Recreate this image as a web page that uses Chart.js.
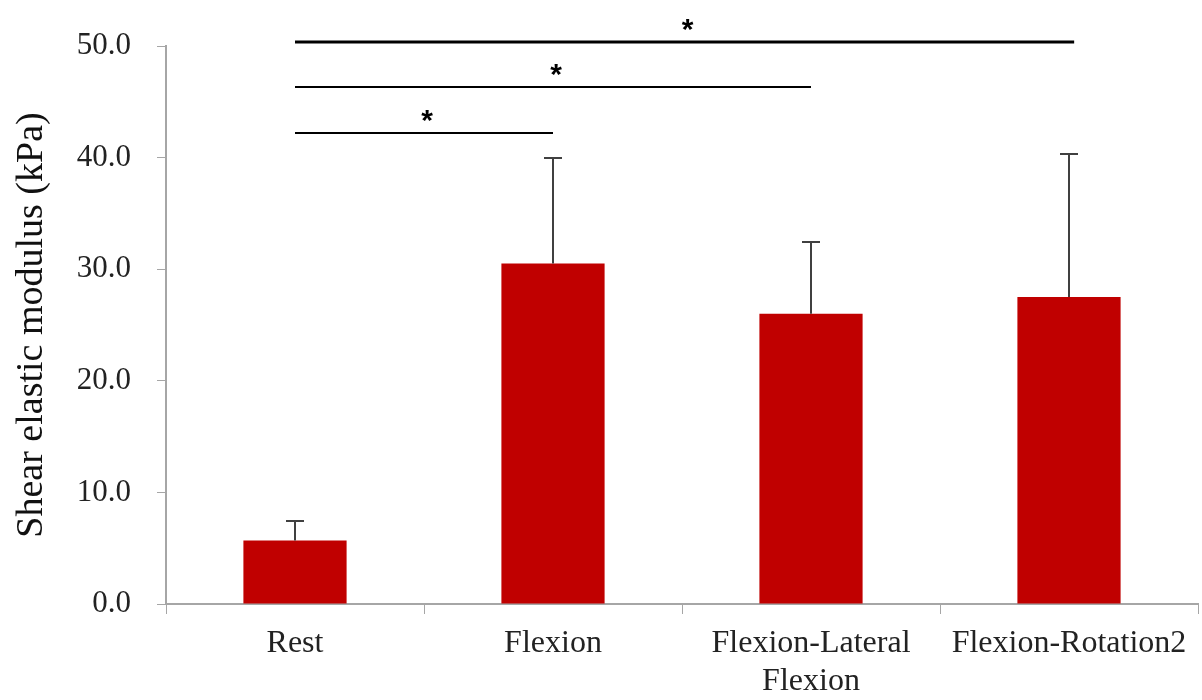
<!DOCTYPE html>
<html>
<head>
<meta charset="utf-8">
<script src="https://cdn.jsdelivr.net/npm/chart.js@4/dist/chart.umd.min.js"></script>
<style>
html,body{margin:0;padding:0;background:#fff;}
#wrap{width:1202px;height:700px;}
</style>
</head>
<body>
<div id="wrap"><canvas id="c" width="1202" height="700"></canvas></div>
<script>
const categories = ["Rest", "Flexion", ["Flexion-Lateral", "Flexion"], "Flexion-Rotation2"];
const means = [5.7, 30.5, 26.0, 27.5];
const sdUpper = [1.7, 9.5, 6.4, 12.8];
const sigFrom = [0, 0, 0];
const sigTo = [1, 2, 3.02];
const sigLevel = [42.2, 46.3, 50.4];
const sigMark = ["*", "*", "*"];
const yTicks = [0, 10, 20, 30, 40, 50];

const serif = '"Liberation Serif", "Times New Roman", serif';

const overlay = {
  id: 'overlay',
  afterDatasetsDraw(chart) {
    const ctx = chart.ctx;
    const x = chart.scales.x, y = chart.scales.y;
    ctx.save();
    // error bars
    ctx.strokeStyle = '#404040';
    ctx.lineWidth = 2;
    means.forEach((m, i) => {
      const px = Math.round(x.getPixelForValue(i));
      const y0 = y.getPixelForValue(m);
      const y1 = Math.round(y.getPixelForValue(m + sdUpper[i]));
      ctx.beginPath();
      ctx.moveTo(px, y0); ctx.lineTo(px, y1);
      ctx.moveTo(px - 9, y1); ctx.lineTo(px + 9, y1);
      ctx.stroke();
    });
    // significance lines
    ctx.strokeStyle = '#000';
    ctx.fillStyle = '#000';
    ctx.font = 'bold 30px "Liberation Sans", Arial, sans-serif';
    ctx.textAlign = 'center';
    ctx.textBaseline = 'middle';
    sigLevel.forEach((lv, i) => {
      const xa = x.getPixelForValue(sigFrom[i]);
      const xb = x.getPixelForValue(sigTo[i]);
      const py = Math.round(y.getPixelForValue(lv));
      ctx.lineWidth = (i === sigLevel.length - 1) ? 3 : 2;
      ctx.beginPath();
      ctx.moveTo(xa, py); ctx.lineTo(xb, py);
      ctx.stroke();
      ctx.fillText(sigMark[i], (xa + xb) / 2 + 3, py - 11);
    });
    ctx.restore();
  }
};

new Chart(document.getElementById('c'), {
  type: 'bar',
  data: {
    labels: categories,
    datasets: [{
      data: means,
      backgroundColor: '#C00000',
      borderWidth: 0,
      categoryPercentage: 1.0,
      barPercentage: 0.4
    }]
  },
  options: {
    responsive: false,
    animation: false,
    devicePixelRatio: 1,
    layout: { padding: { top: 46, right: 4, left: 0, bottom: 0 } },
    plugins: { legend: { display: false }, tooltip: { enabled: false } },
    scales: {
      x: {
        grid: { display: true, drawOnChartArea: false, drawTicks: true, tickLength: 10, color: '#a6a6a6', offset: true },
        border: { color: '#a6a6a6', width: 2 },
        ticks: { color: '#222', font: { family: serif, size: 32, lineHeight: 1.2 }, padding: 10, maxRotation: 0, autoSkip: false },
        afterFit(s) { s.height = 96; }
      },
      y: {
        min: 0, max: 50,
        afterBuildTicks(s) { s.ticks = yTicks.map(v => ({ value: v })); },
        grid: { display: true, drawOnChartArea: false, drawTicks: true, tickLength: 9, color: '#a6a6a6' },
        border: { color: '#a6a6a6', width: 2 },
        ticks: { color: '#222', font: { family: serif, size: 31 }, padding: 26, callback: v => v.toFixed(1) },
        title: { display: true, text: 'Shear elastic modulus (kPa)', color: '#111', font: { family: serif, size: 38 }, padding: { top: 9, bottom: 0 } },
        afterFit(s) { s.width = 166; }
      }
    }
  },
  plugins: [overlay]
});
</script>
</body>
</html>
